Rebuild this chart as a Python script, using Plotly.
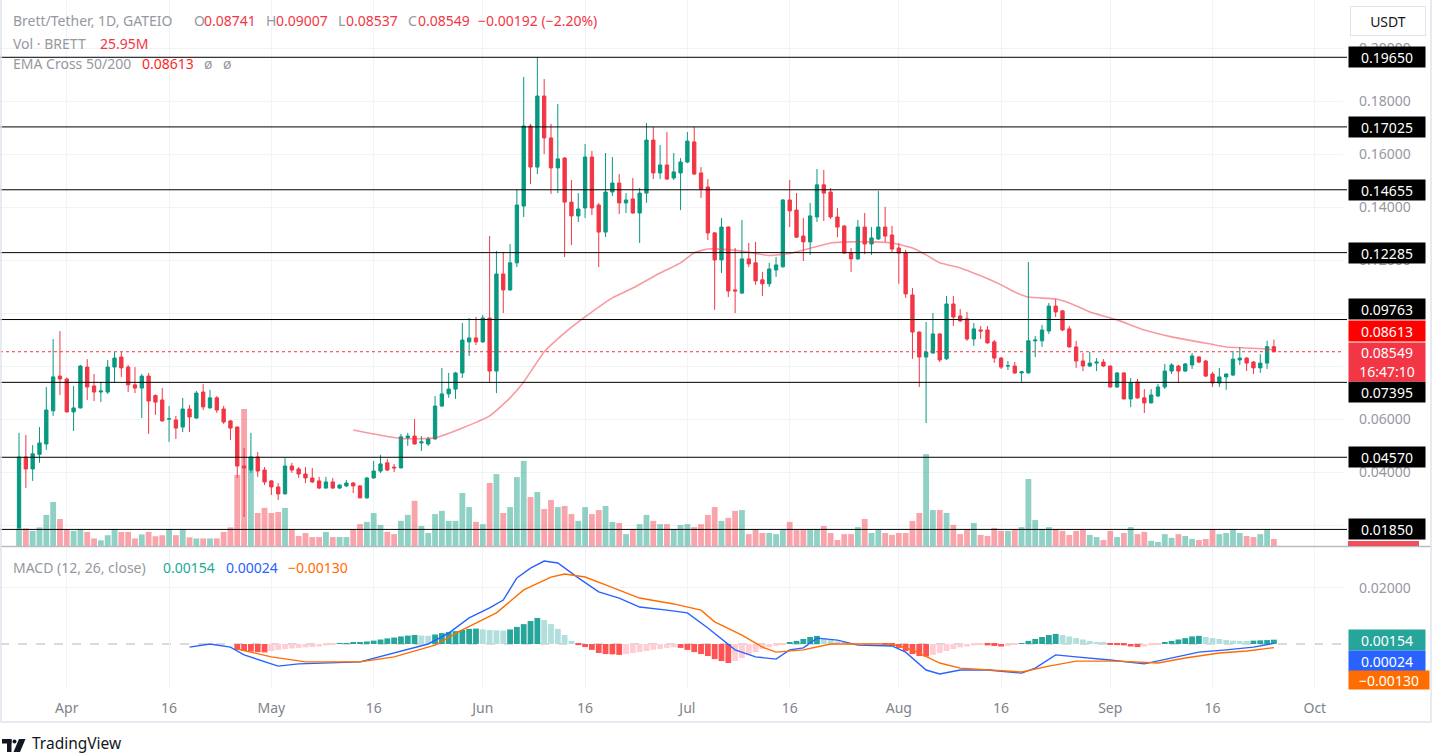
import pandas as pd
import plotly.graph_objects as go

# BRETT/USDT daily candles (Gate.io)
start_date = "2024-03-25"

opens = [
    0.0190, 0.0458, 0.0413, 0.0468, 0.0507, 0.0632, 0.0763, 0.0752, 0.0628, 0.0643,
    0.0797, 0.0726, 0.0703, 0.0703, 0.0797, 0.0835, 0.0797, 0.0730, 0.0718, 0.0763,
    0.0690, 0.0673, 0.0601, 0.0598, 0.0571, 0.0639, 0.0605, 0.0703, 0.0643, 0.0681,
    0.0639, 0.0594, 0.0571, 0.0424, 0.0409, 0.0458, 0.0409, 0.0368, 0.0345, 0.0319,
    0.0424, 0.0413, 0.0394, 0.0379, 0.0368, 0.0341, 0.0364, 0.0341, 0.0349, 0.0360,
    0.0349, 0.0304, 0.0379, 0.0405, 0.0436, 0.0420, 0.0417, 0.0530, 0.0537, 0.0511,
    0.0507, 0.0526, 0.0650, 0.0696, 0.0714, 0.0775, 0.0892, 0.0907, 0.0892, 0.0982,
    0.0782, 0.1148, 0.1088, 0.1190, 0.1404, 0.1706, 0.1551, 0.1819, 0.1661, 0.1548,
    0.1585, 0.1419, 0.1367, 0.1397, 0.1589, 0.1408, 0.1306, 0.1457, 0.1491, 0.1416,
    0.1431, 0.1378, 0.1453, 0.1653, 0.1529, 0.1559, 0.1510, 0.1529, 0.1570, 0.1646,
    0.1529, 0.1476, 0.1303, 0.1201, 0.1325, 0.1088, 0.1076, 0.1205, 0.1190, 0.1126,
    0.1111, 0.1163, 0.1175, 0.1427, 0.1389, 0.1291, 0.1269, 0.1363, 0.1484, 0.1457,
    0.1363, 0.1329, 0.1227, 0.1205, 0.1325, 0.1261, 0.1280, 0.1325, 0.1295, 0.1246,
    0.1227, 0.1069, 0.0929, 0.0835, 0.0850, 0.0922, 0.0828, 0.1035, 0.0990, 0.0979,
    0.0903, 0.0937, 0.0937, 0.0892, 0.0831, 0.0801, 0.0801, 0.0775, 0.0775, 0.0896,
    0.0896, 0.0933, 0.1027, 0.1009, 0.0941, 0.0873, 0.0820, 0.0801, 0.0812, 0.0816,
    0.0801, 0.0722, 0.0775, 0.0677, 0.0741, 0.0681, 0.0662, 0.0688, 0.0722, 0.0782,
    0.0801, 0.0782, 0.0805, 0.0835, 0.0820, 0.0771, 0.0737, 0.0760, 0.0767, 0.0824,
    0.0831, 0.0816, 0.0794, 0.0812, 0.08741,
]
highs = [
    0.0549, 0.0541, 0.0503, 0.0571, 0.0722, 0.0903, 0.0933, 0.0758, 0.0726, 0.0805,
    0.0827, 0.0771, 0.0741, 0.0824, 0.0854, 0.0854, 0.0805, 0.0797, 0.0771, 0.0775,
    0.0694, 0.0718, 0.0650, 0.0613, 0.0681, 0.0654, 0.0707, 0.0733, 0.0711, 0.0688,
    0.0650, 0.0598, 0.0573, 0.0492, 0.0549, 0.0477, 0.0420, 0.0371, 0.0360, 0.0454,
    0.0436, 0.0420, 0.0420, 0.0417, 0.0383, 0.0383, 0.0379, 0.0356, 0.0371, 0.0364,
    0.0352, 0.0383, 0.0443, 0.0466, 0.0451, 0.0432, 0.0545, 0.0549, 0.0601, 0.0537,
    0.0534, 0.0688, 0.0794, 0.0775, 0.0779, 0.0963, 0.0982, 0.0986, 0.0994, 0.1291,
    0.1235, 0.1231, 0.1261, 0.1465, 0.1891, 0.1714, 0.1966, 0.1883, 0.1714, 0.1789,
    0.1589, 0.1502, 0.1453, 0.1638, 0.1612, 0.1416, 0.1604, 0.1589, 0.1525, 0.1453,
    0.1510, 0.1472, 0.1717, 0.1702, 0.1634, 0.1683, 0.1604, 0.1585, 0.1683, 0.1702,
    0.1551, 0.1506, 0.1306, 0.1359, 0.1328, 0.1246, 0.1352, 0.1265, 0.1269, 0.1156,
    0.1190, 0.1212, 0.1431, 0.1502, 0.1453, 0.1359, 0.1416, 0.1544, 0.1540, 0.1472,
    0.1397, 0.1332, 0.1246, 0.1352, 0.1378, 0.1325, 0.1461, 0.1401, 0.1329, 0.1265,
    0.1239, 0.1095, 0.0932, 0.0967, 0.1001, 0.0925, 0.1065, 0.1065, 0.1016, 0.1005,
    0.0963, 0.0952, 0.0952, 0.0899, 0.0835, 0.0820, 0.0816, 0.0782, 0.1193, 0.0914,
    0.0956, 0.1039, 0.1054, 0.1012, 0.0952, 0.0896, 0.0850, 0.0854, 0.0831, 0.0827,
    0.0803, 0.0777, 0.0777, 0.0756, 0.0752, 0.0714, 0.0714, 0.0733, 0.0809, 0.0812,
    0.0805, 0.0812, 0.0850, 0.0839, 0.0824, 0.0779, 0.0794, 0.0773, 0.0858, 0.0873,
    0.0835, 0.0820, 0.0846, 0.0896, 0.09007,
]
lows = [
    0.0190, 0.0341, 0.0368, 0.0436, 0.0485, 0.0613, 0.0692, 0.0626, 0.0556, 0.0641,
    0.0673, 0.0669, 0.0665, 0.0696, 0.0737, 0.0760, 0.0703, 0.0699, 0.0605, 0.0545,
    0.0617, 0.0592, 0.0515, 0.0526, 0.0552, 0.0552, 0.0601, 0.0635, 0.0641, 0.0624,
    0.0583, 0.0522, 0.0379, 0.0232, 0.0398, 0.0383, 0.0352, 0.0315, 0.0296, 0.0317,
    0.0398, 0.0379, 0.0360, 0.0360, 0.0337, 0.0339, 0.0337, 0.0337, 0.0345, 0.0322,
    0.0302, 0.0300, 0.0377, 0.0398, 0.0405, 0.0401, 0.0415, 0.0500, 0.0505, 0.0481,
    0.0500, 0.0524, 0.0648, 0.0681, 0.0677, 0.0756, 0.0839, 0.0880, 0.0888, 0.0737,
    0.0699, 0.1001, 0.1085, 0.1174, 0.1363, 0.1487, 0.1525, 0.1600, 0.1450, 0.1453,
    0.1212, 0.1257, 0.1344, 0.1359, 0.1370, 0.1174, 0.1287, 0.1442, 0.1374, 0.1378,
    0.1375, 0.1265, 0.1416, 0.1506, 0.1506, 0.1502, 0.1502, 0.1389, 0.1566, 0.1521,
    0.1435, 0.1276, 0.1013, 0.1152, 0.1061, 0.1001, 0.1073, 0.1174, 0.1107, 0.1065,
    0.1099, 0.1137, 0.1172, 0.1325, 0.1284, 0.1197, 0.1220, 0.1344, 0.1348, 0.1355,
    0.1287, 0.1223, 0.1156, 0.1201, 0.1223, 0.1220, 0.1277, 0.1269, 0.1231, 0.1111,
    0.1058, 0.0828, 0.0722, 0.0586, 0.0847, 0.0816, 0.0824, 0.0952, 0.0967, 0.0896,
    0.0877, 0.0903, 0.0886, 0.0813, 0.0790, 0.0786, 0.0771, 0.0741, 0.0773, 0.0835,
    0.0873, 0.0922, 0.0986, 0.0933, 0.0871, 0.0794, 0.0782, 0.0797, 0.0782, 0.0797,
    0.0720, 0.0718, 0.0675, 0.0646, 0.0677, 0.0624, 0.0660, 0.0684, 0.0714, 0.0771,
    0.0737, 0.0779, 0.0790, 0.0812, 0.0760, 0.0722, 0.0722, 0.0711, 0.0763, 0.0805,
    0.0782, 0.0771, 0.0775, 0.0790, 0.08537,
]
closes = [
    0.0458, 0.0413, 0.0470, 0.0511, 0.0635, 0.0760, 0.0752, 0.0628, 0.0643, 0.0801,
    0.0722, 0.0703, 0.0707, 0.0797, 0.0831, 0.0794, 0.0730, 0.0718, 0.0763, 0.0669,
    0.0665, 0.0594, 0.0602, 0.0567, 0.0639, 0.0609, 0.0699, 0.0647, 0.0681, 0.0635,
    0.0590, 0.0567, 0.0424, 0.0417, 0.0458, 0.0405, 0.0364, 0.0345, 0.0319, 0.0424,
    0.0409, 0.0394, 0.0379, 0.0364, 0.0341, 0.0364, 0.0341, 0.0352, 0.0360, 0.0349,
    0.0304, 0.0379, 0.0405, 0.0432, 0.0409, 0.0417, 0.0534, 0.0537, 0.0507, 0.0515,
    0.0526, 0.0650, 0.0696, 0.0714, 0.0775, 0.0899, 0.0907, 0.0892, 0.0982, 0.0782,
    0.1148, 0.1088, 0.1190, 0.1408, 0.1706, 0.1551, 0.1819, 0.1661, 0.1548, 0.1582,
    0.1419, 0.1367, 0.1393, 0.1589, 0.1397, 0.1306, 0.1457, 0.1491, 0.1416, 0.1427,
    0.1378, 0.1453, 0.1653, 0.1529, 0.1559, 0.1506, 0.1533, 0.1570, 0.1649, 0.1525,
    0.1468, 0.1303, 0.1201, 0.1325, 0.1084, 0.1084, 0.1205, 0.1186, 0.1122, 0.1111,
    0.1167, 0.1182, 0.1427, 0.1386, 0.1287, 0.1269, 0.1367, 0.1484, 0.1453, 0.1363,
    0.1325, 0.1227, 0.1205, 0.1325, 0.1261, 0.1284, 0.1325, 0.1291, 0.1242, 0.1227,
    0.1073, 0.0929, 0.0835, 0.0854, 0.0922, 0.0824, 0.1035, 0.0986, 0.0971, 0.0903,
    0.0941, 0.0933, 0.0888, 0.0831, 0.0797, 0.0802, 0.0775, 0.0779, 0.0896, 0.0899,
    0.0937, 0.1027, 0.1005, 0.0937, 0.0873, 0.0820, 0.0801, 0.0812, 0.0816, 0.0801,
    0.0722, 0.0775, 0.0677, 0.0737, 0.0681, 0.0662, 0.0692, 0.0722, 0.0782, 0.0805,
    0.0782, 0.0809, 0.0839, 0.0816, 0.0763, 0.0737, 0.0760, 0.0771, 0.0827, 0.0831,
    0.0812, 0.0794, 0.0812, 0.08741, 0.08549,
]
# volume in millions of BRETT
volumes_m = [
    65, 65, 56, 69, 115, 163, 100, 63, 56, 63,
    52, 28, 21, 40, 63, 52, 52, 28, 43, 52,
    36, 40, 63, 40, 63, 32, 28, 28, 28, 28,
    52, 69, 263, 507, 329, 122, 141, 122, 126, 141,
    63, 37, 48, 33, 33, 52, 33, 33, 33, 63,
    81, 89, 122, 78, 52, 44, 93, 115, 167, 74,
    48, 118, 130, 93, 93, 196, 144, 89, 81, 233,
    266, 122, 144, 255, 315, 181, 200, 137, 170, 144,
    148, 118, 93, 144, 118, 133, 148, 89, 85, 44,
    63, 81, 115, 93, 81, 81, 63, 78, 81, 70,
    81, 115, 144, 93, 104, 130, 133, 44, 63, 48,
    48, 44, 63, 89, 59, 59, 63, 63, 74, 48,
    22, 44, 44, 70, 100, 48, 59, 48, 41, 48,
    48, 93, 122, 340, 133, 133, 122, 78, 44, 63,
    85, 41, 37, 67, 56, 56, 59, 70, 248, 96,
    63, 70, 63, 56, 41, 56, 59, 41, 33, 22,
    56, 33, 48, 70, 44, 52, 19, 15, 44, 30,
    44, 37, 26, 22, 26, 63, 44, 48, 63, 48,
    37, 33, 44, 63, 25.95,
]

# EMA 50 (day index from start_date, value)
ema_idx = [49, 52, 56, 61, 65, 69, 72, 74, 77, 80, 83, 87, 90, 94, 97, 99, 101, 104,
           107, 110, 113, 116, 119, 122, 125, 128, 131, 133, 135, 138, 141, 144, 146,
           148, 152, 154, 157, 161, 165, 169, 173, 177, 180, 183, 184]
ema_vals = [0.0560, 0.0545, 0.0528, 0.0530, 0.0567, 0.0613, 0.0681, 0.0741, 0.0854,
            0.0926, 0.0986, 0.1058, 0.1095, 0.1152, 0.1190, 0.1228, 0.1242, 0.1240,
            0.1230, 0.1218, 0.1225, 0.1245, 0.1265, 0.1269, 0.1269, 0.1265, 0.1246,
            0.1220, 0.1190, 0.1171, 0.1141, 0.1107, 0.1080, 0.1061, 0.1054, 0.1039,
            0.1005, 0.0975, 0.0937, 0.0911, 0.0892, 0.0873, 0.0869, 0.0865, 0.08613]

# MACD (12, 26, close)
macd_idx = [25, 28, 31, 33, 38, 41, 50, 55, 60, 63, 66, 69, 71, 73, 75, 77, 79, 82, 85,
            88, 91, 95, 98, 101, 105, 108, 111, 113, 115, 117, 120, 123, 128, 130, 133,
            135, 138, 142, 147, 149, 152, 155, 160, 165, 169, 173, 177, 181, 184]
macd_vals = [-0.0011, 0.0000, -0.0011, -0.0039, -0.0079, -0.0071, -0.0064, -0.0032,
             0.0000, 0.0039, 0.0093, 0.0129, 0.0157, 0.0236, 0.0271, 0.0296, 0.0289,
             0.0236, 0.0186, 0.0164, 0.0132, 0.0121, 0.0111, 0.0057, -0.0021, -0.0046,
             -0.0054, -0.0021, -0.0014, 0.0021, 0.0014, -0.0004, -0.0007, -0.0029,
             -0.0093, -0.0107, -0.0093, -0.0093, -0.0104, -0.0086, -0.0039, -0.0046,
             -0.0057, -0.0071, -0.0050, -0.0029, -0.0021, -0.0011, 0.00024]
signal_idx = [32, 37, 42, 50, 55, 61, 65, 70, 74, 78, 80, 83, 86, 91, 96, 100, 102, 106,
              109, 111, 115, 119, 123, 128, 131, 135, 138, 143, 147, 151, 155, 161, 167,
              171, 176, 180, 184]
signal_vals = [-0.0018, -0.0046, -0.0064, -0.0064, -0.0046, -0.0004, 0.0050, 0.0111,
               0.0193, 0.0239, 0.0250, 0.0239, 0.0211, 0.0164, 0.0143, 0.0121, 0.0079,
               0.0032, -0.0011, -0.0029, -0.0021, 0.0000, 0.0000, 0.0000, -0.0021,
               -0.0068, -0.0086, -0.0093, -0.0100, -0.0079, -0.0061, -0.0061, -0.0068,
               -0.0050, -0.0032, -0.0025, -0.0013]
hist_start = 32
hist_vals = [
    -0.0021, -0.0025, -0.0027, -0.0029, -0.0030, -0.0025, -0.0021, -0.0018, -0.0016, -0.0014,
    -0.0012, -0.0011, -0.0009, -0.0005, -0.0003, 0.0002, 0.0003, 0.0004, 0.0005, 0.0009,
    0.0012, 0.0016, 0.0020, 0.0023, 0.0027, 0.0030, 0.0032, 0.0030, 0.0029, 0.0034,
    0.0039, 0.0043, 0.0046, 0.0050, 0.0054, 0.0055, 0.0052, 0.0050, 0.0049, 0.0048,
    0.0052, 0.0061, 0.0071, 0.0082, 0.0093, 0.0086, 0.0071, 0.0054, 0.0032, 0.0011,
    -0.0004, -0.0011, -0.0021, -0.0032, -0.0036, -0.0037, -0.0039, -0.0036, -0.0032, -0.0029,
    -0.0025, -0.0021, -0.0018, -0.0014, -0.0012, -0.0014, -0.0021, -0.0029, -0.0036, -0.0043,
    -0.0054, -0.0061, -0.0068, -0.0061, -0.0050, -0.0039, -0.0029, -0.0018, -0.0011, -0.0007,
    -0.0002, 0.0005, 0.0011, 0.0018, 0.0025, 0.0029, 0.0021, 0.0014, 0.0009, 0.0005,
    0.0003, 0.0002, 0.0001, 0.0001, 0.0001, -0.0002, -0.0007, -0.0014, -0.0025, -0.0036,
    -0.0043, -0.0045, -0.0039, -0.0032, -0.0025, -0.0018, -0.0012, -0.0009, -0.0005, -0.0004,
    -0.0005, -0.0007, -0.0009, -0.0007, -0.0004, 0.0002, 0.0011, 0.0018, 0.0025, 0.0032,
    0.0036, 0.0032, 0.0027, 0.0021, 0.0016, 0.0011, 0.0007, 0.0004, -0.0002, -0.0004,
    -0.0005, -0.0009, -0.0011, -0.0009, -0.0005, -0.0002, 0.0005, 0.0011, 0.0016, 0.0021,
    0.0027, 0.0029, 0.0025, 0.0021, 0.0018, 0.0014, 0.0012, 0.0011, 0.0011, 0.0012,
    0.0013, 0.0014, 0.00154,
]

levels = [0.19650, 0.17025, 0.14655, 0.12285, 0.09763, 0.07395, 0.04570, 0.01850]
last_price = 0.08549
ema_last = 0.08613
macd_last, signal_last, hist_last = 0.00024, -0.00130, 0.00154

time_ticks = ["2024-04-01", "2024-04-16", "2024-05-01", "2024-05-16", "2024-06-01",
              "2024-06-16", "2024-07-01", "2024-07-16", "2024-08-01", "2024-08-16",
              "2024-09-01", "2024-09-16", "2024-10-01"]
time_labels = ["Apr", "16", "May", "16", "Jun", "16", "Jul", "16", "Aug", "16",
               "Sep", "16", "Oct"]
price_ticks = [0.02, 0.04, 0.06, 0.08, 0.10, 0.12, 0.14, 0.16, 0.18, 0.20]

# ---- styling ----
FONT = "Noto Sans, Roboto, Arial, sans-serif"
UP = "#089981"
DOWN = "#f23645"
GRID = "#f2f3f6"
AXIS_TXT = "#9598a1"
PLOT_W, PLOT_H = 1343, 688  # plot area in px (margins l=0, t=0)


def xp(px):
    return px / PLOT_W


def yp(py):
    return 1 - py / PLOT_H


dates = pd.date_range(start_date, periods=len(closes), freq="D")
t0 = pd.Timestamp(start_date)
x_range = [t0 - pd.Timedelta(days=2.79), t0 + pd.Timedelta(days=194.13)]

vol_colors = ["rgba(8,153,129,0.45)" if c >= o else "rgba(242,54,69,0.45)"
              for o, c in zip(opens, closes)]

hist_colors = []
prev = 0.0
for v in hist_vals:
    if v >= 0:
        hist_colors.append("#26a69a" if v > prev else "#b2dfdb")
    else:
        hist_colors.append("#ffcdd2" if v > prev else "#ff5252")
    prev = v
hist_dates = dates[hist_start:hist_start + len(hist_vals)]

fig = go.Figure()

fig.add_trace(go.Bar(x=dates, y=volumes_m, marker=dict(color=vol_colors, line_width=0),
                     xaxis="x", yaxis="y", hoverinfo="skip"))
fig.add_trace(go.Candlestick(
    x=dates, open=opens, high=highs, low=lows, close=closes,
    xaxis="x", yaxis="y3",
    increasing=dict(line=dict(color=UP, width=1), fillcolor=UP),
    decreasing=dict(line=dict(color=DOWN, width=1), fillcolor=DOWN),
    whiskerwidth=0,
))
fig.add_trace(go.Scatter(x=[dates[i] for i in ema_idx], y=ema_vals, mode="lines",
                         line=dict(color="rgba(242,54,69,0.5)", width=1.6, shape="spline",
                                   smoothing=0.5),
                         xaxis="x", yaxis="y3", hoverinfo="skip"))

fig.add_trace(go.Bar(x=hist_dates, y=hist_vals, marker=dict(color=hist_colors, line_width=0),
                     xaxis="x2", yaxis="y2", hoverinfo="skip"))
fig.add_trace(go.Scatter(x=[dates[i] for i in macd_idx], y=macd_vals, mode="lines",
                         line=dict(color="#2962ff", width=1.4), xaxis="x2", yaxis="y2"))
fig.add_trace(go.Scatter(x=[dates[i] for i in signal_idx], y=signal_vals, mode="lines",
                         line=dict(color="#ff6d00", width=1.4), xaxis="x2", yaxis="y2"))

shapes = []
for lv in levels:
    shapes.append(dict(type="line", xref="paper", yref="y3", x0=0, x1=1.003, y0=lv, y1=lv,
                       line=dict(color="#000000", width=1), layer="above"))
shapes.append(dict(type="line", xref="paper", yref="y3", x0=0, x1=1, y0=last_price,
                   y1=last_price, line=dict(color=DOWN, width=1, dash="dot"), layer="above"))
shapes.append(dict(type="line", xref="paper", yref="y2", x0=0, x1=1, y0=0, y1=0,
                   line=dict(color="#b2b5be", width=1, dash="dash"), layer="below"))
# pane separator, frame
shapes.append(dict(type="line", xref="paper", yref="paper", x0=0, x1=xp(1431),
                   y0=yp(546.5), y1=yp(546.5), line=dict(color="#b8bbc3", width=1.5)))
shapes.append(dict(type="rect", xref="paper", yref="paper", x0=xp(1), x1=xp(1431),
                   y0=yp(722), y1=yp(-2), line=dict(color="#e0e3eb", width=1.5)))
# clipped volume label at bottom of price scale
shapes.append(dict(type="rect", xref="paper", yref="paper", x0=xp(1348), x1=xp(1419),
                   y0=yp(546), y1=yp(541), fillcolor="#f0505c", line_width=0))
# TradingView logo
shapes.append(dict(type="rect", xref="paper", yref="paper", x0=xp(2), x1=xp(11.5),
                   y0=yp(743.5), y1=yp(739), fillcolor="#131722", line_width=0))
shapes.append(dict(type="rect", xref="paper", yref="paper", x0=xp(7), x1=xp(11.5),
                   y0=yp(752), y1=yp(739), fillcolor="#131722", line_width=0))
shapes.append(dict(type="circle", xref="paper", yref="paper", x0=xp(12.5), x1=xp(16.5),
                   y0=yp(743.5), y1=yp(739.5), fillcolor="#131722", line_width=0))
shapes.append(dict(type="path", xref="paper", yref="paper",
                   path=(f"M {xp(19)} {yp(739)} L {xp(25.5)} {yp(739)} "
                         f"L {xp(20)} {yp(752)} L {xp(13.5)} {yp(752)} Z"),
                   fillcolor="#131722", line_width=0))

annotations = []


def text(x, y, s, color, size=14, anchor="left"):
    annotations.append(dict(x=xp(x), y=yp(y), xref="paper", yref="paper", text=s,
                            showarrow=False, xanchor=anchor, yanchor="middle",
                            font=dict(family=FONT, size=size, color=color)))


def box(s, y, yref, bg, yshift=0, w=72, h=16, yanchor="middle"):
    annotations.append(dict(x=1, xshift=5, xref="paper", xanchor="left", y=y, yref=yref,
                            yanchor=yanchor, yshift=yshift, text=s, showarrow=False,
                            bgcolor=bg, borderpad=2, width=w, height=h, align="center",
                            font=dict(family=FONT, size=14, color="white")))


GRAY = "#9598a1"
text(11, 21, "Brett/Tether, 1D, GATEIO", GRAY)
text(192, 21, "O", GRAY)
text(202, 21, f"{opens[-1]:.5f}", DOWN)
text(264, 21, "H", GRAY)
text(274, 21, f"{highs[-1]:.5f}", DOWN)
text(336, 21, "L", GRAY)
text(344, 21, f"{lows[-1]:.5f}", DOWN)
text(406, 21, "C", GRAY)
text(416, 21, f"{closes[-1]:.5f}", DOWN)
text(476, 21, "\u22120.00192 (\u22122.20%)", DOWN)
text(11, 43, "Vol \u00b7 BRETT", GRAY)
text(98, 43, f"{volumes_m[-1]:.2f}M", DOWN)
text(11, 64, "EMA Cross 50/200", GRAY)
text(140, 64, f"{ema_last:.5f}", "#ff1f1f")
text(202, 64, "\u00f8", GRAY)
text(221, 64, "\u00f8", GRAY)
text(11, 567, "MACD (12, 26, close)", GRAY)
text(161, 567, f"{hist_last:.5f}", "#22ab94")
text(224, 567, f"{macd_last:.5f}", "#2962ff")
text(286, 567, "\u22120.00130", "#ff6d00")
text(30, 743, "TradingView", "#131722", size=15.5)

level_shift = {0.09763: 10.5, 0.07395: -9.5}
for lv in levels:
    box(f"{lv:.5f}", lv, "y3", "#000000", yshift=level_shift.get(lv, 0))
box(f"{ema_last:.5f}", ema_last, "y3", "#ff0000", yshift=19.5)
box(f"{last_price:.5f}<br>16:47:10", last_price, "y3", "#f23645", yshift=10, h=34,
    yanchor="top")
box(f"{hist_last:.5f}", hist_last, "y2", "#26a69a")
box(f"{macd_last:.5f}", macd_last, "y2", "#2962ff", yshift=-17.5)
box("\u22120.00130", signal_last, "y2", "#ff6d00", yshift=-32, w=76, h=14)

annotations.append(dict(x=xp(1388), y=yp(21), xref="paper", yref="paper", text="USDT",
                        showarrow=False, xanchor="center", yanchor="middle",
                        bordercolor="#e0e3eb", borderwidth=1, borderpad=4, width=66,
                        height=20, font=dict(family=FONT, size=14, color="#131722")))

main_bottom = (PLOT_H - 546) / PLOT_H
macd_top = (PLOT_H - 548) / PLOT_H

fig.update_layout(
    width=1435, height=753,
    margin=dict(l=0, r=92, t=0, b=65),
    paper_bgcolor="white", plot_bgcolor="white",
    showlegend=False, bargap=0.15,
    font=dict(family=FONT, color=AXIS_TXT),
    xaxis=dict(domain=[0, 1], anchor="y", type="date", range=x_range,
               rangeslider=dict(visible=False), showticklabels=False,
               tickvals=time_ticks, showgrid=True, gridcolor=GRID, zeroline=False,
               showline=False, ticks=""),
    xaxis2=dict(domain=[0, 1], anchor="y2", type="date", range=x_range, matches="x",
                tickvals=time_ticks, ticktext=time_labels, showgrid=True, gridcolor=GRID,
                zeroline=False, showline=False, ticks="", ticklabelstandoff=10,
                tickfont=dict(family=FONT, size=14, color="#80838c")),
    yaxis=dict(domain=[main_bottom, 1], range=[0, 2020], visible=False, fixedrange=True),
    yaxis3=dict(overlaying="y", anchor="x", side="right", range=[0.01225, 0.2181],
                tickvals=price_ticks, ticktext=[f"{v:.5f}" for v in price_ticks],
                showgrid=True, gridcolor=GRID, zeroline=False, showline=False, ticks="",
                ticklabelstandoff=15, tickfont=dict(family=FONT, size=14, color=AXIS_TXT)),
    yaxis2=dict(domain=[0, macd_top], anchor="x2", side="right",
                range=[-0.01571, 0.03427], tickvals=[0.02], ticktext=["0.02000"],
                showgrid=True, gridcolor=GRID, zeroline=False, showline=False, ticks="",
                ticklabelstandoff=15, tickfont=dict(family=FONT, size=14, color=AXIS_TXT)),
    shapes=shapes,
    annotations=annotations,
)

# the page body has a default 8px margin; remove it so the chart sits at the top-left
fig.write_html("out.html", config={"displayModeBar": False},
               post_script="document.body.style.margin='0';")
